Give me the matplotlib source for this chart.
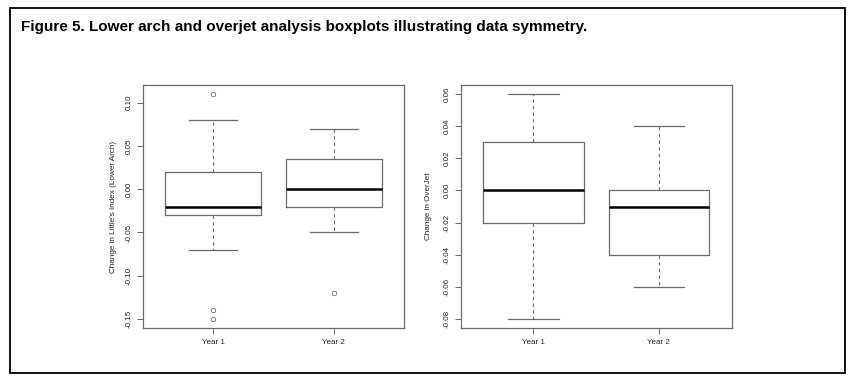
import matplotlib
matplotlib.use("Agg")
import matplotlib.pyplot as plt
from matplotlib.patches import Rectangle

plt.rcParams['font.family'] = ['Liberation Sans', 'DejaVu Sans']

categories = ["Year 1", "Year 2"]

# Lower arch (Little's Index change)
lower_whislo = [-0.07, -0.05]
lower_q1 = [-0.03, -0.02]
lower_med = [-0.02, 0.0]
lower_q3 = [0.02, 0.035]
lower_whishi = [0.08, 0.07]
lower_fliers = [[0.11, -0.14, -0.15], [-0.12]]
lower_ticks = [-0.15, -0.10, -0.05, 0.00, 0.05, 0.10]
lower_ticklabels = ["-0.15", "-0.10", "-0.05", "0.00", "0.05", "0.10"]

# Overjet change
over_whislo = [-0.08, -0.06]
over_q1 = [-0.02, -0.04]
over_med = [0.0, -0.01]
over_q3 = [0.03, 0.0]
over_whishi = [0.06, 0.04]
over_fliers = [[], []]
over_ticks = [-0.08, -0.06, -0.04, -0.02, 0.00, 0.02, 0.04, 0.06]
over_ticklabels = ["-0.08", "-0.06", "-0.04", "-0.02", "0.00", "0.02", "0.04", "0.06"]

title = "Figure 5. Lower arch and overjet analysis boxplots illustrating data symmetry."
lower_ylabel = "Change in Little's Index (Lower Arch)"
over_ylabel = "Change in OverJet"

W, H = 856, 383
fig = plt.figure(figsize=(W / 100, H / 100), dpi=100)

# outer frame
fig.patches.append(Rectangle((10 / W, 1 - 373 / H), (845 - 10) / W, (373 - 8) / H,
                             transform=fig.transFigure, fill=False,
                             edgecolor='black', linewidth=1.3))
fig.text(21 / W, 1 - 27 / H, title, ha='left', va='center', fontsize=11,
         fontweight='bold', family=['Liberation Sans Narrow', 'Liberation Sans', 'DejaVu Sans'])

gray = '#6a6a6a'
fs = 5.8


def make_panel(rect, whislo, q1, med, q3, whishi, fliers, ticks, ticklabels, ylabel, labx):
    ax = fig.add_axes(rect)
    stats = []
    for i in range(len(categories)):
        stats.append(dict(whislo=whislo[i], q1=q1[i], med=med[i], q3=q3[i],
                          whishi=whishi[i], fliers=fliers[i], label=categories[i]))
    ax.bxp(stats, positions=[1, 2], widths=0.8, showfliers=True,
           boxprops=dict(color=gray, linewidth=0.9),
           whiskerprops=dict(color=gray, linewidth=0.8, linestyle=(0, (3, 3))),
           capprops=dict(color=gray, linewidth=0.9),
           medianprops=dict(color='black', linewidth=1.8),
           flierprops=dict(marker='o', markersize=3.2, markerfacecolor='none',
                           markeredgecolor=gray, markeredgewidth=0.6, linestyle='none'),
           capwidths=0.4)
    lo = min(min(whislo), min([min(f) for f in fliers if f] + [min(whislo)]))
    hi = max(max(whishi), max([max(f) for f in fliers if f] + [max(whishi)]))
    pad = 0.04 * (hi - lo)
    ax.set_ylim(lo - pad, hi + pad)
    ax.set_xlim(0.42, 2.58)
    ax.set_yticks(ticks)
    ax.set_yticklabels(ticklabels, rotation=90, va='center')
    ax.set_xticks([1, 2])
    ax.set_xticklabels(categories)
    ax.tick_params(axis='both', length=4, width=0.7, color=gray, labelsize=fs, labelcolor='#222222')
    ax.tick_params(axis='y', pad=3.5)
    ax.tick_params(axis='x', pad=4)
    for s in ax.spines.values():
        s.set_color(gray)
        s.set_linewidth(0.9)
    ax.set_ylabel(ylabel, fontsize=5.9, color='#222222')
    ax.yaxis.set_label_coords(labx, 0.5)
    return ax


make_panel([143 / W, 1 - 328 / H, 261 / W, 243 / H],
           lower_whislo, lower_q1, lower_med, lower_q3, lower_whishi, lower_fliers,
           lower_ticks, lower_ticklabels, lower_ylabel, -0.10)
make_panel([460.7 / W, 1 - 328 / H, 271 / W, 243 / H],
           over_whislo, over_q1, over_med, over_q3, over_whishi, over_fliers,
           over_ticks, over_ticklabels, over_ylabel, -0.105)

fig.savefig("out.png", dpi=100)
